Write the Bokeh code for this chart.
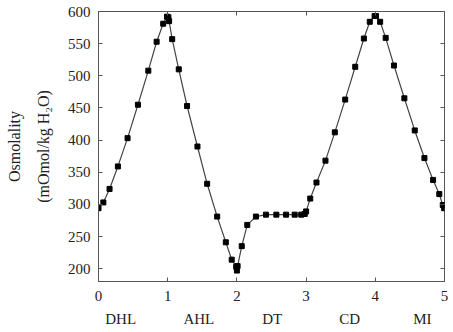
from bokeh.plotting import figure
from bokeh.models import Range1d, LinearAxis, FixedTicker, ColumnDataSource
from bokeh.embed import file_html
from bokeh.resources import INLINE

# Data: normalized position along nephron (0..5) and osmolality (mOsmol/kg H2O)
x_pos = [0.00, 0.07, 0.16, 0.28, 0.42, 0.57, 0.72, 0.84, 0.935, 0.99, 1.01,
         1.02, 1.065, 1.16, 1.28, 1.43, 1.57, 1.715, 1.84, 1.925, 1.99, 2.00,
         2.01, 2.07, 2.15, 2.275, 2.42, 2.57, 2.71, 2.835, 2.93, 2.98, 3.00,
         3.06, 3.15, 3.28, 3.415, 3.565, 3.71, 3.835, 3.92, 3.99, 4.01,
         4.07, 4.15, 4.27, 4.42, 4.57, 4.71, 4.835, 4.925, 4.975, 4.995]
osmolality = [294, 303, 324, 359, 403, 455, 508, 553, 581, 592, 591,
              585, 557, 510, 453, 390, 332, 281, 241, 214, 203, 197,
              204, 235, 268, 281, 284, 284, 284, 284, 284, 285, 289,
              309, 334, 368, 412, 463, 514, 558, 584, 593, 593,
              584, 559, 516, 465, 415, 372, 338, 316, 299, 294]

segment_labels = ["DHL", "AHL", "DT", "CD", "MI"]
segment_label_x = [0.32, 1.45, 2.51, 3.63, 4.68]
y_ticks = [200, 250, 300, 350, 400, 450, 500, 550, 600]
x_ticks = [0, 1, 2, 3, 4, 5]

FONT = "Liberation Serif"

src = ColumnDataSource(dict(x=x_pos, y=osmolality))

p = figure(width=453, height=332, output_backend="svg", toolbar_location=None,
           x_range=Range1d(0, 5), y_range=Range1d(180, 600),
           min_border_left=98, min_border_right=9, min_border_top=11,
           min_border_bottom=51, x_axis_type=None, y_axis_type=None)
p.background_fill_color = "white"
p.border_fill_color = "white"
p.outline_line_color = "#555555"
p.outline_line_width = 1

# main axes
xa = LinearAxis(ticker=FixedTicker(ticks=x_ticks))
ya = LinearAxis(ticker=FixedTicker(ticks=y_ticks),
                axis_label="Osmolality\n(mOmol/kg H\u2082O)")
for ax in (xa, ya):
    ax.major_label_text_font = FONT
    ax.major_label_text_font_size = "15px"
    ax.major_label_text_color = "#222222"
    ax.axis_line_color = "#555555"
    ax.major_tick_line_color = "#555555"
    ax.major_tick_in = 4
    ax.major_tick_out = 0
    ax.minor_tick_line_color = None
xa.major_label_standoff = 9
ya.major_label_standoff = 8
ya.axis_label_text_font = FONT
ya.axis_label_text_font_style = "normal"
ya.axis_label_text_font_size = "16px"
ya.axis_label_text_color = "#222222"
ya.axis_label_standoff = 13
ya.axis_label_text_line_height = 1.7
p.add_layout(xa, "below")
p.add_layout(ya, "left")

# segment name axis
sa = LinearAxis(ticker=FixedTicker(ticks=segment_label_x),
                major_label_overrides={v: t for v, t in zip(segment_label_x, segment_labels)})
sa.axis_line_color = None
sa.major_tick_line_color = None
sa.minor_tick_line_color = None
sa.major_label_text_font = FONT
sa.major_label_text_font_size = "15px"
sa.major_label_text_color = "#222222"
sa.major_label_standoff = 1
p.add_layout(sa, "below")

# right / top ticks (inward, no labels)
ra = LinearAxis(ticker=FixedTicker(ticks=y_ticks))
ta = LinearAxis(ticker=FixedTicker(ticks=x_ticks))
for ax in (ra, ta):
    ax.major_label_text_color = None
    ax.major_label_standoff = 0
    ax.axis_line_color = None
    ax.major_tick_line_color = "#555555"
    ax.major_tick_in = 4
    ax.major_tick_out = 0
    ax.minor_tick_line_color = None
p.add_layout(ra, "right")
p.add_layout(ta, "above")

# grids
p.xgrid.ticker = FixedTicker(ticks=x_ticks)
p.ygrid.ticker = FixedTicker(ticks=y_ticks)
for g in (p.xgrid, p.ygrid):
    g.grid_line_color = "#cfcfcf"
    g.grid_line_dash = "2 2"
    g.grid_line_width = 1

p.line("x", "y", source=src, line_color="#444444", line_width=1.2)
p.scatter("x", "y", source=src, marker="square", size=5, fill_color="black",
          line_color="black")

open("out.html", "w").write(file_html(p, INLINE))
